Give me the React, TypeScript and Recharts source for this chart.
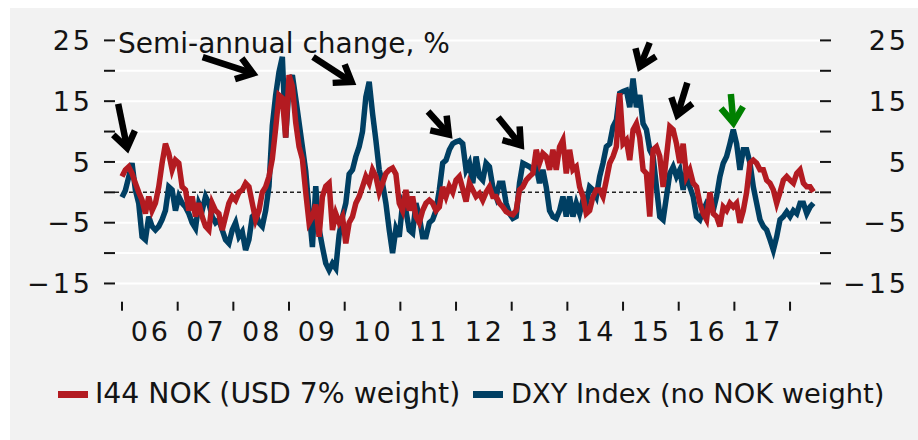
import React from 'react';
import { ComposedChart, Line, XAxis, YAxis, ReferenceLine, ReferenceDot } from 'recharts';

// observations start at 2006 and are spaced evenly (about three weeks apart)
const T0 = 2006;
const STEP = 0.06;

// semi-annual change, %
const i44 = [
  2.6, 3.7, 4.2, 3.1, 1.5, 0, -1.3, -3.5, -0.7, -3, -1.8, 0.9, 4.8, 8, 6.4, 3.7, 5.3, 4.8, 0.9, 0.4,
  -3, -0.7, -4, -1.8, -4, -5.6, -6.2, -1.8, -3, -3.5, -6.2, -4, -1.8, -0.7, -1.3, 0, 0.4, 1.5, 0.9, -1.8,
  -4.5, -3, 0, 0.9, 2.6, 5.5, 10.5, 16, 15.5, 9, 19.3, 17.5, 11.5, 7.5, 5.5, 0, -5, -4, -2, -7.3,
  -0.7, 1, 1.5, -6.2, -3.5, -5, -4, -8.4, -5, -4, -1.8, -0.7, 0.9, 2.6, 1.5, 3.7, 2.6, 0, 1.5, 3.1,
  3.7, 4, 3, -1.8, -3, 0.4, -3, -0.7, -4, -5, -3, -1.8, -1.3, -1.8, -3, -2.4, 0.9, -0.7, 1, 0,
  2, 2.6, 0.6, -1.5, 1.5, 0.4, -0.7, -0.2, -1.3, 0, 0.9, -0.7, -0.7, -1.8, -2.4, -3.2, -3.5, -3.7, -3, 0.4,
  0.9, 2, 2.6, 3.1, 7, 4.8, 6.4, 5.9, 3.7, 7, 3.7, 7.5, 8.6, 3.1, 7, 3.7, 4.2, 0.9, -0.7, -3.5,
  -3, -0.7, 0.4, 0.4, -0.7, 2, 4.8, 5.9, 7.5, 16.3, 8, 8.6, 5.3, 10.3, 11.3, 9, 3.7, 3.1, -4, 7,
  7.5, 5.9, 0.9, 5.9, 10.8, 10.3, 8, 4.8, 8, 2.6, 3.7, 1.5, 0.9, -1.8, -3.5, -4.5, 0, -3.5, -4, -5.6,
  -2.4, -3, -1.8, -2.4, -1.8, -5, -3, 0, 4.8, 5.3, 4.8, 3.7, 3.7, 2, 1.5, 0.4, -1.8, 0, 2, 2.6,
  2, 1.5, 3.1, 3.7, 1.5, 0.9, 0.9, 0.1,
];

const dxy = [
  -0.8, 0.3, 2.5, 4.8, 0.4, -1.8, -7.3, -7.8, -4, -5.6, -6.2, -5.6, -4.5, -3, 0.9, 0.4, -3, -0.7, -1.8, -2.4,
  -3.5, -5, -5.9, -1.8, -3, -0.7, -1.8, -4, -5, -4.5, -6.2, -7.8, -8.4, -6.2, -5, -7.3, -6.5, -9.5, -7.8, -4,
  -3.5, -5, -5.6, -3, 1, 11, 16, 19.8, 22.3, 9, 17.5, 19.3, 15.5, 11.5, 7.5, 3.5, -3, -9, 1, -6,
  -9, -11.7, -12.8, -11.7, -12.5, -7, -4, -1.8, 3, 3.7, 5.9, 7.5, 10, 15.7, 18.2, 13, 8.6, 3.7, 1.5, -1.8,
  -6.2, -10, -6, -7.3, -1.8, -3, -6.2, -6.7, -1.8, -4, -7.3, -7.3, -5, -4.5, -3, 0.4, 4.8, 5.3, 7, 8,
  8.3, 8.5, 8, 3.7, 4.8, 1.5, 5.9, 2.6, 2, 4.8, 4.2, 0.9, -0.7, 1.5, 1.5, -1.8, -3.5, -4.3, -4, 1.5,
  4.8, 4.5, 4.2, 3.7, 4.2, 1.5, 3.7, 0.9, -3, -4, -4.3, -3, -0.7, -4, -0.7, -4, -1.8, -3.5, -1.3, -1.8,
  0.9, 0.4, -0.7, 2.6, 4.8, 7.5, 8, 10.8, 11.9, 16.3, 16.6, 16.8, 14, 18.7, 14, 16, 11.3, 10.3, 7, 5.9,
  0.9, -4, -4.5, -0.7, 3.1, 4.2, 2.6, 3.7, 0.4, 3.7, 0.9, -0.7, -4, -4.5, -3, -1.8, -2.4, -3, -0.7, 2.6,
  4.8, 5.9, 8, 10.3, 8, 3.7, 7, 7, 4.8, 0.9, -1.8, -4.5, -5.6, -6.2, -7.8, -9.5, -7.3, -4.5, -4, -3.2,
  -4, -3, -3.5, -1.8, -1.8, -3.5, -2.4, -1.8,
];

const yearTicks = [2006, 2007, 2008, 2009, 2010, 2011, 2012, 2013, 2014, 2015, 2016, 2017, 2018];
const yearLabelTicks = [2006.5, 2007.5, 2008.5, 2009.5, 2010.5, 2011.5, 2012.5, 2013.5, 2014.5, 2015.5, 2016.5, 2017.5];
const yTicks = [-15, -10, -5, 0, 5, 10, 15, 20, 25];
const gridValues = [-15, -10, -5, 5, 10, 15, 20, 25];

// arrow tips sit on the peaks they point at
const arrows = [
  { t: 2006.11, v: 6.5, angle: 78.5, len: 50, color: '#000' },
  { t: 2008.44, v: 19.3, angle: 18, len: 58, color: '#000' },
  { t: 2010.2, v: 17.7, angle: 33, len: 51, color: '#000' },
  { t: 2011.93, v: 8.9, angle: 48, len: 36, color: '#000' },
  { t: 2013.22, v: 7.1, angle: 51, len: 41, color: '#000' },
  { t: 2015.27, v: 19.9, angle: 112, len: 31, color: '#000' },
  { t: 2015.95, v: 11.9, angle: 107, len: 39, color: '#000' },
  { t: 2016.99, v: 10.6, angle: 85, len: 34, color: '#008000' },
];

const data = i44.map((v, i) => ({ t: T0 + i * STEP, i44: v, dxy: dxy[i] }));

const FONT = '"DejaVu Sans", sans-serif';
const RED = '#b31b21';
const BLUE = '#003f63';
const INK = '#141414';
const X_DOMAIN = [2005.874, 2018.538];

const fmtY = (v: number) => (v % 10 === 0 ? '' : v < 0 ? '\u2212' + Math.abs(v) : String(v));

const LeftTick = ({ y, payload }: any) => (
  <text x={93} y={y} dy="0.36em" textAnchor="end" fontFamily={FONT} fontSize={27} letterSpacing={3} fill={INK}>
    {fmtY(payload.value)}
  </text>
);

const RightTick = ({ y, payload }: any) => (
  <text x={909} y={y} dy="0.36em" textAnchor="end" fontFamily={FONT} fontSize={27} letterSpacing={3} fill={INK}>
    {fmtY(payload.value)}
  </text>
);

const YearTick = ({ x, payload }: any) => (
  <text x={x + 1} y={341} textAnchor="middle" fontFamily={FONT} fontSize={27} letterSpacing={3} fill={INK}>
    {String(Math.floor(payload.value)).slice(2)}
  </text>
);

const arrowShape = (a: any) => (props: any) => {
  const { cx, cy } = props;
  const rad = (a.angle * Math.PI) / 180;
  const ux = Math.cos(rad);
  const uy = Math.sin(rad);
  const hx = cx - ux * 5;
  const hy = cy - uy * 5;
  const back = rad + Math.PI;
  const head = 19;
  const spread = 0.62;
  const p1 = [hx + head * Math.cos(back + spread), hy + head * Math.sin(back + spread)];
  const p2 = [hx + head * Math.cos(back - spread), hy + head * Math.sin(back - spread)];
  return (
    <g>
      <line x1={cx - ux * a.len} y1={cy - uy * a.len} x2={hx - ux * 2} y2={hy - uy * 2} stroke={a.color} strokeWidth={6.5} />
      <polyline
        points={`${p1[0]},${p1[1]} ${hx},${hy} ${p2[0]},${p2[1]}`}
        fill="none"
        stroke={a.color}
        strokeWidth={6.5}
        strokeLinejoin="miter"
        strokeMiterlimit={10}
      />
    </g>
  );
};

export default function App() {
  return (
    <div style={{ position: 'absolute', left: 0, top: 0, width: 918, height: 440, background: '#fff' }}>
      <div style={{ position: 'absolute', left: 10, top: 8, width: 908, height: 432, background: '#f2f2f2' }} />
      <div style={{ position: 'absolute', left: 0, top: 0 }}>
        <ComposedChart width={918} height={440} data={data} margin={{ top: 40.4, right: 0, bottom: 0, left: 0 }}>
          <XAxis
            xAxisId="ax"
            dataKey="t"
            type="number"
            domain={X_DOMAIN}
            allowDataOverflow
            ticks={yearTicks}
            tickFormatter={() => ''}
            tickSize={9}
            tickLine={{ stroke: INK, strokeWidth: 2 }}
            axisLine={false}
            height={137.3}
          />
          <XAxis
            xAxisId="bx"
            dataKey="t"
            type="number"
            domain={X_DOMAIN}
            allowDataOverflow
            ticks={yearLabelTicks}
            tick={<YearTick />}
            tickLine={false}
            axisLine={false}
            height={1}
          />
          <YAxis
            yAxisId="left"
            domain={[-18, 25]}
            allowDataOverflow
            ticks={yTicks}
            tick={<LeftTick />}
            tickSize={11}
            tickLine={{ stroke: INK, strokeWidth: 2 }}
            axisLine={false}
            width={115}
          />
          <YAxis
            yAxisId="right"
            orientation="right"
            domain={[-18, 25]}
            allowDataOverflow
            ticks={yTicks}
            tick={<RightTick />}
            tickSize={11}
            tickLine={{ stroke: INK, strokeWidth: 2 }}
            axisLine={false}
            width={98}
          />
          {gridValues.map((g) => (
            <ReferenceLine key={g} xAxisId="ax" yAxisId="left" y={g} stroke="#ffffff" strokeWidth={2} />
          ))}
          <ReferenceLine xAxisId="ax" yAxisId="left" y={0} stroke="#222" strokeWidth={1.5} strokeDasharray="4 3" />
          <Line
            xAxisId="ax"
            yAxisId="left"
            dataKey="dxy"
            stroke={BLUE}
            strokeWidth={5.5}
            dot={false}
            isAnimationActive={false}
          />
          <Line
            xAxisId="ax"
            yAxisId="left"
            dataKey="i44"
            stroke={RED}
            strokeWidth={5.5}
            dot={false}
            isAnimationActive={false}
          />
          {arrows.map((a, i) => (
            <ReferenceDot
              key={i}
              xAxisId="ax"
              yAxisId="left"
              x={a.t}
              y={a.v}
              r={1}
              ifOverflow="visible"
              shape={arrowShape(a)}
            />
          ))}
        </ComposedChart>
      </div>
      <svg width={918} height={440} style={{ position: 'absolute', left: 0, top: 0, pointerEvents: 'none' }}>
        <text x={118} y={53} fontFamily={FONT} fontSize={28} fill={INK}>
          Semi-annual change, %
        </text>
        <rect x={58} y={391} width={30} height={7} fill={RED} />
        <text x={95} y={403} fontFamily={FONT} fontSize={28.3} fill={INK}>
          I44 NOK (USD 7% weight)
        </text>
        <rect x={473} y={391} width={30} height={7} fill={BLUE} />
        <text x={511} y={403} fontFamily={FONT} fontSize={27.3} fill={INK}>
          DXY Index (no NOK weight)
        </text>
      </svg>
    </div>
  );
}
